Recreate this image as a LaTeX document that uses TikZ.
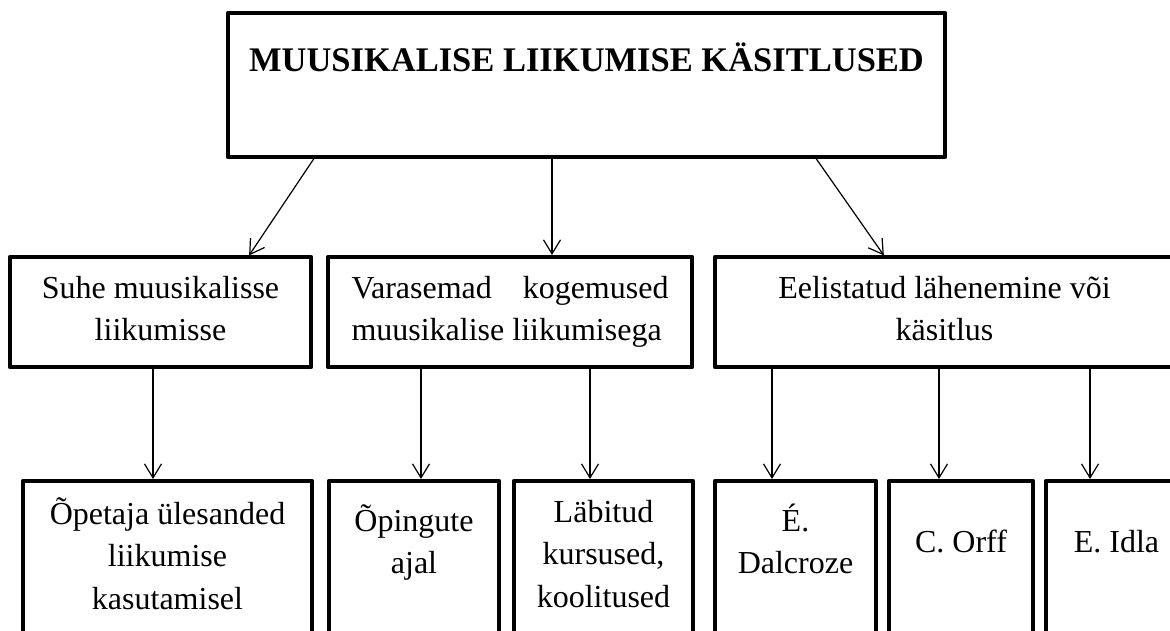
\documentclass[tikz,border=0pt]{standalone}
\usepackage{fontspec}
\setmainfont{Liberation Serif}
\usetikzlibrary{positioning}
\usetikzlibrary{arrows.meta}

\begin{document}
\begin{tikzpicture}[x=1pt, y=-1pt,
		catbox/.style={draw, line width=4.6pt, line join=round, inner xsep=0pt, inner ysep=0pt, outer sep=0pt, align=flush center, font=\fontsize{32}{42.5}\selectfont},
		midbox/.style={catbox, text height=41pt, text depth=69pt},
		leafbox/.style={catbox, text depth=200pt},
		link/.style={-{Straight Barb[length=14pt,width=17pt]}, line width=1.2pt, shorten >=2pt}]
		\useasboundingbox (0,0) rectangle (1170,630);
		\node [catbox, anchor=north west, text width=717pt, text height=58pt, text depth=86pt, font=\fontsize{34.5}{42}\selectfont\bfseries] at (228,13) (muusik) {MUUSIKALISE LIIKUMISE KÄSITLUSED};
		\node [midbox, anchor=north west, text width=301pt] at (10,257) (suhe) {Suhe muusikalisse\\liikumisse};
		\node [midbox, right=17pt of suhe.north east, anchor=north west, text width=317pt, inner xsep=23.5pt, align=flush left] (varas) {Varasemad\hfill kogemused\\muusikalise liikumisega};
		\node [midbox, right=23pt of varas.north east, anchor=north west, text width=459pt] (eelist) {Eelistatud lähenemine või\\käsitlus};
		\node [leafbox, anchor=north west, text width=289pt, text height=43pt] at (23,481) (opetaj) {Õpetaja ülesanded\\liikumise\\kasutamisel};
		\node [leafbox, right=17pt of opetaj.north east, anchor=north west, text width=170pt, text height=50pt] (oping) {Õpingute\\ajal};
		\node [leafbox, right=15pt of oping.north east, anchor=north west, text width=179pt, text height=41pt] (labit) {Läbitud\\kursused,\\koolitused};
		\node [leafbox, right=22pt of labit.north east, anchor=north west, text width=161pt, text height=50pt] (dalcr) {É.\\Dalcroze};
		\node [leafbox, right=13pt of dalcr.north east, anchor=north west, text width=144pt, text height=71pt] (orff) {C. Orff};
		\node [leafbox, right=13pt of orff.north east, anchor=north west, text width=141pt, text height=71pt] (idla) {E. Idla};
		\draw [link] (muusik.south -| 315,0) -- (suhe.north -| 248,0);
		\draw [link] (muusik.south -| 552,0) -- (varas.north -| 552,0);
		\draw [link] (muusik.south -| 815,0) -- (eelist.north -| 885,0);
		\draw [link] (suhe.south -| 153,0) -- (opetaj.north -| 153,0);
		\draw [link] (varas.south -| 421,0) -- (oping.north -| 421,0);
		\draw [link] (varas.south -| 590,0) -- (labit.north -| 590,0);
		\draw [link] (eelist.south -| 772,0) -- (dalcr.north -| 772,0);
		\draw [link] (eelist.south -| 939,0) -- (orff.north -| 939,0);
		\draw [link] (eelist.south -| 1090,0) -- (idla.north -| 1090,0);
\end{tikzpicture}
\end{document}
